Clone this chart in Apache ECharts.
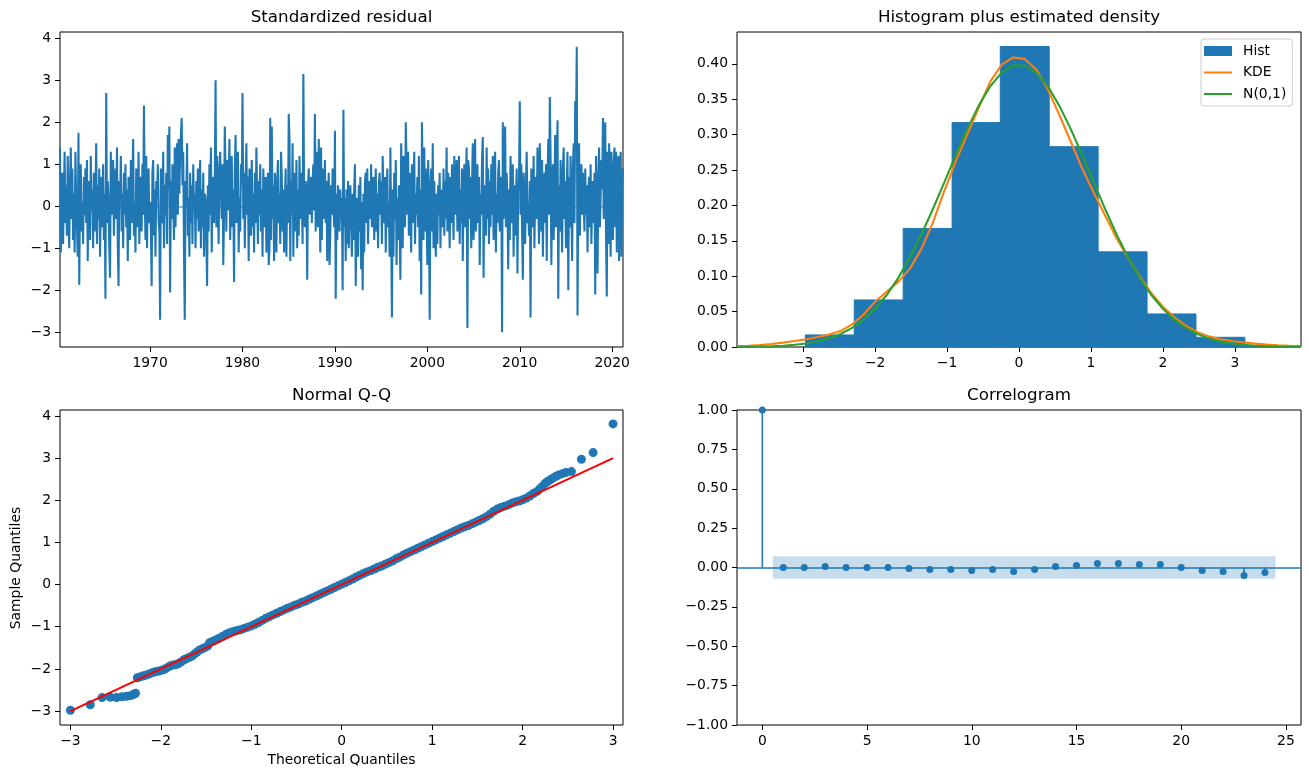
<!DOCTYPE html>
<html>
<head>
<meta charset="utf-8">
<title>Model diagnostics</title>
<script src="https://cdn.jsdelivr.net/npm/echarts@6/dist/echarts.min.js"></script>
<style>
  html, body { margin: 0; padding: 0; background: #fff; }
  #chart { width: 1309px; height: 778px; }
</style>
</head>
<body>
<div id="chart"></div>
<script>
// standardized residuals, one row per year, first row starts in April 1960
const residStartYear = 1960
const residStartMonth = 3
const residRows = [
  [1.4, -1.1, -0.6, 0.8, -0.9, 0.2, 1.3, -0.4, 0.5],
  [-0.7, 1.2, 0.1, -1.0, 0.6, 1.4, -0.3, 0.9, -0.8, 0.3, -1.1, 1.3],
  [0.2, -0.5, -1.2, 1.75, -1.87, 0.4, 1.0, -0.6, 0.1, -0.9, 0.7, -0.2],
  [0.9, -0.4, 1.1, -1.3, 0.3, 0.6, -0.8, 1.2, -0.1, 0.4, -1.0, 0.8],
  [-0.6, 0.2, 1.5, -0.9, 0.5, -0.3, 0.9, -1.2, 0.1, 0.7, -0.5, 1.0],
  [-0.8, 0.3, -2.2, 2.7, -0.4, 0.6, 0.2, -1.0, -1.7, 1.3, -0.2, 0.5],
  [1.1, -0.7, 0.4, 0.9, -0.3, 1.4, -0.9, -1.9, 0.6, 0.1, 1.2, -0.6],
  [0.3, -1.0, 0.8, -0.2, 1.0, -0.5, 0.4, -1.3, 0.7, 0.2, -0.8, 1.1],
  [-0.4, 0.6, 1.6, -0.7, 0.1, -1.1, 0.9, 0.3, -0.5, 1.3, -0.9, 0.2],
  [0.7, -0.6, 1.0, -0.2, 2.4, 0.3, -0.8, 1.2, -1.0, 0.5, 0.9, -0.4],
  [0.1, -0.5, -1.9, 0.8, 1.1, -0.7, 0.4, -1.2, 0.6, 0.2, 1.0, -0.3],
  [-0.6, -2.7, 0.9, -0.4, 0.3, 1.3, -1.0, 0.5, -0.2, 0.8, -0.9, 1.7],
  [0.4, 1.9, -2.05, 0.6, -0.3, 1.0, 0.2, -0.8, 1.4, -0.5, 0.9, 1.5],
  [-0.2, 1.6, 0.3, 1.2, 1.7, 2.1, 0.5, 1.3, -1.1, -2.7, 0.6, 0.1],
  [1.5, -0.7, 0.2, -1.2, 0.8, -0.4, 0.5, -0.9, 1.0, -0.1, 0.3, -1.0],
  [0.6, -0.3, 0.9, -0.6, 0.2, 1.1, -1.0, 0.4, -0.5, 0.8, -1.2, 0.3],
  [0.2, -0.8, -1.9, 0.5, -0.6, 1.0, -0.2, 1.4, -1.1, 0.3, 0.7, -0.4],
  [0.6, 3.0, -0.5, 1.2, 0.1, -0.9, 0.9, 1.3, 0.4, -0.3, 1.0, -1.4],
  [-0.2, 1.9, 0.7, -0.6, 1.1, -0.1, 0.5, 1.6, -0.8, 0.3, 1.2, -0.5],
  [0.4, -1.8, 0.9, 1.7, -0.4, 0.6, 1.3, -1.1, 0.2, -0.6, 1.0, 0.5],
  [2.7, -0.3, 0.8, -1.0, 0.5, 1.5, -0.2, 0.7, -1.3, 0.9, 0.1, -0.7],
  [1.1, -0.5, 0.3, -1.1, 0.8, -0.4, 1.4, 0.2, -0.9, 0.6, -0.2, 1.0],
  [-0.6, 0.4, -1.2, 0.9, 0.1, -0.5, 0.7, -1.1, 0.3, 0.8, -1.4, -1.0],
  [2.1, -0.8, 1.9, -0.3, 0.5, -1.3, 0.8, 0.2, -1.1, 0.6, 1.1, -0.4],
  [0.3, -0.9, 1.3, 0.7, -0.6, 0.4, -1.1, 0.1, 0.9, -1.2, 0.5, -0.4],
  [2.2, 1.6, -1.3, 0.6, -0.2, 1.5, -1.2, 0.8, 0.2, -0.6, 1.1, -1.0],
  [0.4, -0.7, 1.2, -0.3, 0.8, 0.3, -0.9, 3.15, 0.1, -0.5, 0.6, 0.2],
  [-1.75, 0.5, 0.9, -0.2, 0.3, 0.7, -0.4, 0.6, 1.0, -0.1, 2.2, -0.6],
  [0.3, 1.3, -0.5, 1.6, 0.2, -1.1, 1.4, -0.8, 0.9, 0.4, -0.3, 1.1],
  [-0.4, 0.6, -1.3, 0.2, 0.8, -1.4, -0.6, 0.5, -0.2, 0.9, 0.1, -0.5],
  [1.8, -2.2, 0.3, -0.8, 0.5, 0.1, -0.6, 0.4, -0.3, 0.2, -2.0, 2.3],
  [-0.5, 0.2, -1.3, 0.4, -0.9, 0.6, -1.0, 0.1, 0.5, -0.4, -1.2, 0.3],
  [-0.8, 0.4, 1.0, -1.9, -0.3, 0.2, -1.2, 0.5, -0.6, 0.7, -1.5, 0.1],
  [-2.0, 0.3, -1.1, 0.6, 0.8, -0.4, 0.9, -0.9, 0.2, 0.6, -0.3, 1.0],
  [-0.5, 0.4, 0.7, -0.8, 0.1, 0.9, -0.6, 0.3, -1.0, 0.5, 0.8, -0.2],
  [0.6, -0.9, 1.2, 0.2, -0.4, 0.7, -1.1, 0.3, 0.9, -0.5, 0.1, -1.2],
  [1.4, -0.6, -2.65, 0.4, -1.2, 0.8, -0.3, 1.1, -1.4, 0.2, -0.8, 0.5],
  [-0.4, -1.75, 1.5, 0.3, -1.0, 1.2, 0.6, -0.5, 2.0, 0.9, -0.2, 1.3],
  [-0.7, 0.8, 0.2, -1.1, 1.0, -0.4, 0.6, 1.3, -0.9, 0.3, -0.2, 0.7],
  [-0.5, 1.2, -1.3, 0.4, -2.1, 2.0, 0.3, -0.8, 1.4, -0.6, 0.9, -0.1],
  [-1.4, 1.1, 0.2, -2.7, 0.4, 0.9, -0.6, 1.5, -1.0, 0.6, -0.4, -1.2],
  [0.3, -0.9, 0.5, -0.2, 0.8, -1.0, 0.4, 0.1, -0.5, 0.9, -0.7, 0.6],
  [-0.3, 1.4, -0.6, 0.8, 0.2, -1.0, 0.7, -0.4, 1.0, 0.3, -0.8, 1.2],
  [-0.2, 0.5, 1.1, -0.6, 0.3, 1.2, -0.9, 0.4, -0.4, 0.9, -1.3, 0.2],
  [1.0, -0.5, 0.6, 1.4, -2.9, 1.1, 0.9, -0.3, 0.7, -1.0, 0.5, 1.5],
  [-0.8, 0.4, 1.6, -0.6, 0.2, 1.0, -0.4, 0.7, -1.4, 0.3, -0.2, 1.1],
  [1.65, -1.7, 0.5, 0.2, -0.7, 1.4, -0.3, 0.9, -0.9, 0.6, -0.5, 1.0],
  [-0.2, 1.2, -0.8, 0.4, 1.3, -1.1, 0.3, -0.4, 0.8, 1.1, -0.6, 0.2],
  [0.7, -3.0, 2.0, -0.3, 0.6, 1.9, -0.5, 0.8, 0.1, -1.5, 0.4, -0.8],
  [1.2, -0.4, 0.3, 1.0, -1.2, 0.5, -0.7, 0.2, 0.9, -1.6, 0.4, 0.6],
  [2.5, -0.2, 1.0, -0.6, -1.75, 0.8, 0.2, -0.9, 0.5, 1.3, -0.4, 0.1],
  [-0.7, 0.6, -2.65, 0.9, 0.3, -0.5, 1.2, -1.0, 0.4, 0.7, -0.3, 1.4],
  [0.2, -0.9, 1.5, 0.5, -0.6, 1.1, -1.2, 0.3, 0.8, -0.4, 1.0, -1.3],
  [0.6, 1.6, -0.2, 2.6, 1.2, -1.4, 0.4, 1.0, -0.8, 0.3, 1.7, -0.5],
  [0.8, 2.05, -2.2, 0.5, -0.6, 1.1, 0.2, -1.1, 0.9, 1.4, -0.3, 0.6],
  [-1.0, 0.4, 1.3, -2.0, 0.7, -0.5, 1.2, 0.1, -1.3, 0.9, 1.5, -0.4],
  [2.5, 1.8, 3.8, -2.6, 0.6, 1.5, -0.7, 0.4, 1.0, -0.2, 0.8, 0.1],
  [-0.6, 0.9, -0.2, 0.5, -1.1, 0.3, 0.7, -0.5, 1.0, -0.9, 0.2, 0.6],
  [-0.4, 0.8, -2.1, 1.2, 0.3, -1.6, 0.6, 1.4, -0.5, 0.2, 1.1, 0.4],
  [2.1, -0.3, 1.8, 2.0, -0.7, -2.15, 1.3, -0.9, 1.5, 0.6, -1.2, 1.3],
  [0.2, -0.8, 1.0, 1.4, -0.5, 1.3, -1.1, 0.8, 1.2, -1.3, 0.7, 1.3],
  [-1.2, 0.5, 0.9]
]
const residYearTicks = [1970, 1980, 1990, 2000, 2010, 2020]
const residValueTicks = [-3, -2, -1, 0, 1, 2, 3, 4]

// histogram (density) of the residuals
const histEdges = [-2.97, -2.29, -1.61, -0.93, -0.26, 0.42, 1.10, 1.78, 2.46, 3.14, 3.82]
const histDensity = [0.017, 0.0665, 0.1675, 0.317, 0.4245, 0.283, 0.1344, 0.0467, 0.0137, 0.002]
const densityX = [-3.92, -3.76, -3.60, -3.44, -3.28, -3.12, -2.96, -2.80, -2.64, -2.48,
  -2.32, -2.16, -2.00, -1.84, -1.68, -1.52, -1.36, -1.20, -1.04, -0.88,
  -0.72, -0.56, -0.40, -0.24, -0.08, 0.08, 0.24, 0.40, 0.56, 0.72,
  0.88, 1.04, 1.20, 1.36, 1.52, 1.68, 1.84, 2.00, 2.16, 2.32,
  2.48, 2.64, 2.80, 2.96, 3.12, 3.28, 3.44, 3.60, 3.76, 3.92]
const kdeY = [0.0012, 0.0018, 0.0028, 0.0043, 0.0062, 0.0085, 0.0110, 0.0140, 0.0175, 0.0225,
  0.0320, 0.0460, 0.0640, 0.0780, 0.0920, 0.1100, 0.1380, 0.1750, 0.2200, 0.2620,
  0.3000, 0.3380, 0.3750, 0.3990, 0.4090, 0.4070, 0.3920, 0.3640, 0.3280, 0.2900,
  0.2520, 0.2180, 0.1850, 0.1530, 0.1250, 0.0990, 0.0760, 0.0570, 0.0420, 0.0300,
  0.0210, 0.0150, 0.0110, 0.0085, 0.0065, 0.0048, 0.0035, 0.0025, 0.0018, 0.0012]
const normY = [0.0002, 0.0003, 0.0006, 0.0011, 0.0018, 0.0031, 0.0050, 0.0079, 0.0122, 0.0184,
  0.0270, 0.0387, 0.0540, 0.0734, 0.0973, 0.1257, 0.1582, 0.1942, 0.2323, 0.2709,
  0.3078, 0.3410, 0.3683, 0.3876, 0.3977, 0.3977, 0.3876, 0.3683, 0.3410, 0.3078,
  0.2709, 0.2323, 0.1942, 0.1582, 0.1257, 0.0973, 0.0734, 0.0540, 0.0387, 0.0270,
  0.0184, 0.0122, 0.0079, 0.0050, 0.0031, 0.0018, 0.0011, 0.0006, 0.0003, 0.0002]
const histXTicks = [-3, -2, -1, 0, 1, 2, 3]
const histYTicks = [0, 0.05, 0.10, 0.15, 0.20, 0.25, 0.30, 0.35, 0.40]

// normal Q-Q: [theoretical, sample]
const qqPoints = [
  [-3.00, -2.98], [-2.78, -2.85], [-2.65, -2.68], [-2.56, -2.67], [-2.49, -2.68], [-2.43, -2.66],
  [-2.38, -2.65], [-2.33, -2.63], [-2.30, -2.60], [-2.28, -2.58],
  [-2.26, -2.21], [-2.23, -2.19], [-2.20, -2.17], [-2.17, -2.15], [-2.14, -2.13], [-2.11, -2.10],
  [-2.08, -2.08], [-2.05, -2.06], [-2.02, -2.05], [-1.99, -2.03], [-1.96, -2.01], [-1.93, -1.97],
  [-1.90, -1.93], [-1.87, -1.91], [-1.84, -1.90], [-1.81, -1.88], [-1.78, -1.84], [-1.75, -1.79],
  [-1.72, -1.76], [-1.69, -1.73], [-1.66, -1.70], [-1.63, -1.65], [-1.60, -1.60], [-1.57, -1.55],
  [-1.54, -1.52], [-1.51, -1.49], [-1.48, -1.45], [-1.46, -1.38], [-1.43, -1.35], [-1.40, -1.32],
  [-1.36, -1.28], [-1.32, -1.23], [-1.28, -1.18], [-1.24, -1.14], [-1.20, -1.11], [-1.16, -1.09],
  [-1.12, -1.07], [-1.08, -1.04], [-1.04, -1.01], [-1.00, -0.98], [-0.96, -0.94], [-0.92, -0.90],
  [-0.88, -0.85], [-0.84, -0.80], [-0.80, -0.76], [-0.76, -0.72], [-0.72, -0.68], [-0.68, -0.64],
  [-0.64, -0.60], [-0.60, -0.56], [-0.56, -0.53], [-0.52, -0.49], [-0.48, -0.46], [-0.44, -0.42],
  [-0.40, -0.39], [-0.36, -0.35], [-0.32, -0.31], [-0.28, -0.27], [-0.24, -0.23], [-0.20, -0.19],
  [-0.16, -0.15], [-0.12, -0.11], [-0.08, -0.07], [-0.04, -0.03], [0.00, 0.01], [0.04, 0.05],
  [0.08, 0.09], [0.12, 0.13], [0.16, 0.18], [0.20, 0.22], [0.24, 0.26], [0.28, 0.30],
  [0.32, 0.33], [0.36, 0.37], [0.40, 0.41], [0.44, 0.44], [0.48, 0.48], [0.52, 0.52],
  [0.56, 0.56], [0.60, 0.61], [0.64, 0.65], [0.68, 0.70], [0.72, 0.74], [0.76, 0.78],
  [0.80, 0.82], [0.84, 0.86], [0.88, 0.90], [0.92, 0.94], [0.96, 0.98], [1.00, 1.02],
  [1.04, 1.06], [1.08, 1.10], [1.12, 1.14], [1.16, 1.18], [1.20, 1.22], [1.24, 1.26],
  [1.28, 1.30], [1.32, 1.34], [1.36, 1.37], [1.40, 1.40], [1.44, 1.44], [1.48, 1.48],
  [1.52, 1.52], [1.56, 1.56], [1.60, 1.61], [1.64, 1.67], [1.68, 1.74], [1.72, 1.79],
  [1.76, 1.83], [1.80, 1.86], [1.84, 1.89], [1.88, 1.93], [1.92, 1.96], [1.96, 1.98],
  [2.00, 2.01], [2.04, 2.05], [2.08, 2.10], [2.12, 2.16], [2.16, 2.21], [2.19, 2.27],
  [2.22, 2.33], [2.25, 2.40], [2.28, 2.45], [2.31, 2.49], [2.34, 2.53], [2.37, 2.57],
  [2.40, 2.60], [2.44, 2.63], [2.48, 2.66], [2.54, 2.68], [2.65, 2.97], [2.78, 3.13], [3.00, 3.81]
]
const qqLine = [[-3, -3], [3, 3]]
const qqXTicks = [-3, -2, -1, 0, 1, 2, 3]
const qqYTicks = [-3, -2, -1, 0, 1, 2, 3, 4]

// correlogram
const acfLags = [0, 1, 2, 3, 4, 5, 6, 7, 8, 9, 10, 11, 12, 13, 14, 15, 16, 17, 18, 19, 20, 21, 22, 23, 24]
const acfValues = [1.0, 0.0, 0.0, 0.006, 0.0, 0.0, 0.0, -0.006, -0.013, -0.013, -0.019, -0.013, -0.025,
  -0.013, 0.006, 0.013, 0.025, 0.025, 0.019, 0.019, 0.0, -0.019, -0.025, -0.051, -0.032]
const confBand = [0.5, 24.5, -0.072, 0.072]
const acfXTicks = [0, 5, 10, 15, 20, 25]
const acfYTicks = [-1, -0.75, -0.5, -0.25, 0, 0.25, 0.5, 0.75, 1]

const FONT = 'DejaVu Sans'
const BLUE = '#1f77b4'
const LW = 2.08 // 1.5pt at 100 dpi
const minus = (v) => String(v).replace('-', '\u2212')

const chart = echarts.init(document.getElementById('chart'))

function makeAxis(gridIndex, min, max, ticks, formatter) {
  return {
    type: 'value',
    gridIndex,
    min,
    max,
    axisLine: { show: false, onZero: false },
    axisTick: { show: true, length: 5, customValues: ticks, lineStyle: { color: '#000', width: 1 } },
    axisLabel: {
      customValues: ticks,
      color: '#000',
      fontFamily: FONT,
      fontSize: 13.9,
      margin: 9,
      formatter: formatter || minus
    },
    splitLine: { show: false }
  }
}

function makeText(text, x, y, size, rotation) {
  return {
    type: 'text',
    x,
    y,
    rotation: rotation || 0,
    style: {
      text,
      fill: '#000',
      font: size + 'px "' + FONT + '"',
      textAlign: 'center',
      textVerticalAlign: 'middle'
    }
  }
}

const residData = []
residRows.forEach((row, r) => {
  row.forEach((v, m) => {
    const month = (r === 0 ? residStartMonth : 0) + m
    residData.push([residStartYear + r + month / 12, v])
  })
})

const gridBase = { show: true, borderColor: '#000', borderWidth: 1, backgroundColor: 'transparent' }
const lineIcon = 'path://M0,0H28V2H0Z'

const option = {
  animation: false,
  backgroundColor: '#fff',
  textStyle: { fontFamily: FONT },
  grid: [
    Object.assign({ left: 60, top: 32, width: 563, height: 315 }, gridBase),
    Object.assign({ left: 737, top: 32, width: 564, height: 315 }, gridBase),
    Object.assign({ left: 60, top: 410, width: 563, height: 315 }, gridBase),
    Object.assign({ left: 737, top: 410, width: 564, height: 315 }, gridBase)
  ],
  xAxis: [
    makeAxis(0, 1960.25, 2021.17, residYearTicks, (v) => String(v)),
    makeAxis(1, -3.92, 3.92, histXTicks),
    makeAxis(2, -3.115, 3.11, qqXTicks),
    makeAxis(3, -1.21, 25.72, acfXTicks)
  ],
  yAxis: [
    makeAxis(0, -3.35, 4.15, residValueTicks),
    makeAxis(1, 0, 0.445, histYTicks, (v) => v.toFixed(2)),
    makeAxis(2, -3.33, 4.14, qqYTicks),
    makeAxis(3, -1, 1, acfYTicks, (v) => minus(v.toFixed(2)))
  ],
  legend: {
    left: 1201,
    top: 39,
    orient: 'vertical',
    itemWidth: 28,
    itemHeight: 10,
    itemGap: 7.5,
    padding: [5, 6, 5, 3],
    backgroundColor: 'rgba(255,255,255,0.8)',
    borderColor: '#cccccc',
    borderWidth: 1,
    borderRadius: 3,
    textStyle: { color: '#000', fontFamily: FONT, fontSize: 13.9, padding: [0, 0, 0, 6] },
    data: [
      { name: 'Hist', icon: 'rect' },
      { name: 'KDE', icon: lineIcon },
      { name: 'N(0,1)', icon: lineIcon }
    ]
  },
  graphic: [
    makeText('Standardized residual', 341.5, 18, 16.7),
    makeText('Histogram plus estimated density', 1019, 18, 16.7),
    makeText('Normal Q-Q', 341.5, 396, 16.7),
    makeText('Correlogram', 1019, 396, 16.7),
    makeText('Theoretical Quantiles', 341.5, 760, 13.9),
    makeText('Sample Quantiles', 16, 568, 13.9, Math.PI / 2)
  ],
  series: [
    {
      name: 'resid',
      type: 'line',
      xAxisIndex: 0,
      yAxisIndex: 0,
      data: residData,
      showSymbol: false,
      symbol: 'none',
      lineStyle: { color: BLUE, width: LW },
      itemStyle: { color: BLUE },
      markLine: {
        silent: true,
        symbol: 'none',
        label: { show: false },
        lineStyle: { color: 'rgba(31,119,180,0.5)', width: LW, type: 'solid' },
        data: [{ yAxis: 0 }]
      }
    },
    {
      name: 'Hist',
      type: 'custom',
      xAxisIndex: 1,
      yAxisIndex: 1,
      data: histDensity.map((d, i) => [histEdges[i], histEdges[i + 1], d]),
      encode: { x: [0, 1], y: 2 },
      itemStyle: { color: BLUE },
      renderItem: (params, api) => {
        const p0 = api.coord([api.value(0), api.value(2)])
        const p1 = api.coord([api.value(1), 0])
        return {
          type: 'rect',
          shape: { x: p0[0], y: p0[1], width: p1[0] - p0[0], height: p1[1] - p0[1] },
          style: { fill: BLUE, stroke: BLUE, lineWidth: 1 }
        }
      }
    },
    {
      name: 'KDE',
      type: 'line',
      xAxisIndex: 1,
      yAxisIndex: 1,
      data: densityX.map((x, i) => [x, kdeY[i]]),
      showSymbol: false,
      symbol: 'none',
      z: 3,
      lineStyle: { color: '#ff7f0e', width: LW },
      itemStyle: { color: '#ff7f0e' }
    },
    {
      name: 'N(0,1)',
      type: 'line',
      xAxisIndex: 1,
      yAxisIndex: 1,
      data: densityX.map((x, i) => [x, normY[i]]),
      showSymbol: false,
      symbol: 'none',
      z: 3,
      lineStyle: { color: '#2ca02c', width: LW },
      itemStyle: { color: '#2ca02c' }
    },
    {
      name: 'qq',
      type: 'scatter',
      xAxisIndex: 2,
      yAxisIndex: 2,
      data: qqPoints,
      symbolSize: 9,
      itemStyle: { color: BLUE, opacity: 1 }
    },
    {
      name: 'qqline',
      type: 'line',
      xAxisIndex: 2,
      yAxisIndex: 2,
      data: qqLine,
      showSymbol: false,
      symbol: 'none',
      z: 5,
      lineStyle: { color: '#ff0000', width: LW }
    },
    {
      name: 'conf',
      type: 'custom',
      xAxisIndex: 3,
      yAxisIndex: 3,
      data: [confBand],
      encode: { x: [0, 1], y: [2, 3] },
      z: 1,
      renderItem: (params, api) => {
        const p0 = api.coord([api.value(0), api.value(3)])
        const p1 = api.coord([api.value(1), api.value(2)])
        return {
          type: 'rect',
          shape: { x: p0[0], y: p0[1], width: p1[0] - p0[0], height: p1[1] - p0[1] },
          style: { fill: 'rgba(31,119,180,0.25)' }
        }
      }
    },
    {
      name: 'stems',
      type: 'custom',
      xAxisIndex: 3,
      yAxisIndex: 3,
      data: acfLags.map((l, i) => [l, acfValues[i]]),
      z: 3,
      renderItem: (params, api) => {
        const p0 = api.coord([api.value(0), 0])
        const p1 = api.coord([api.value(0), api.value(1)])
        return {
          type: 'line',
          shape: { x1: p0[0], y1: p0[1], x2: p1[0], y2: p1[1] },
          style: { stroke: BLUE, lineWidth: 1.6 }
        }
      }
    },
    {
      name: 'acf',
      type: 'scatter',
      xAxisIndex: 3,
      yAxisIndex: 3,
      data: acfLags.map((l, i) => [l, acfValues[i]]),
      symbolSize: 7,
      z: 4,
      itemStyle: { color: BLUE, opacity: 1 },
      markLine: {
        silent: true,
        symbol: 'none',
        label: { show: false },
        lineStyle: { color: BLUE, width: 1.6, type: 'solid' },
        data: [{ yAxis: 0 }]
      }
    }
  ]
}

chart.setOption(option)
</script>
</body>
</html>
